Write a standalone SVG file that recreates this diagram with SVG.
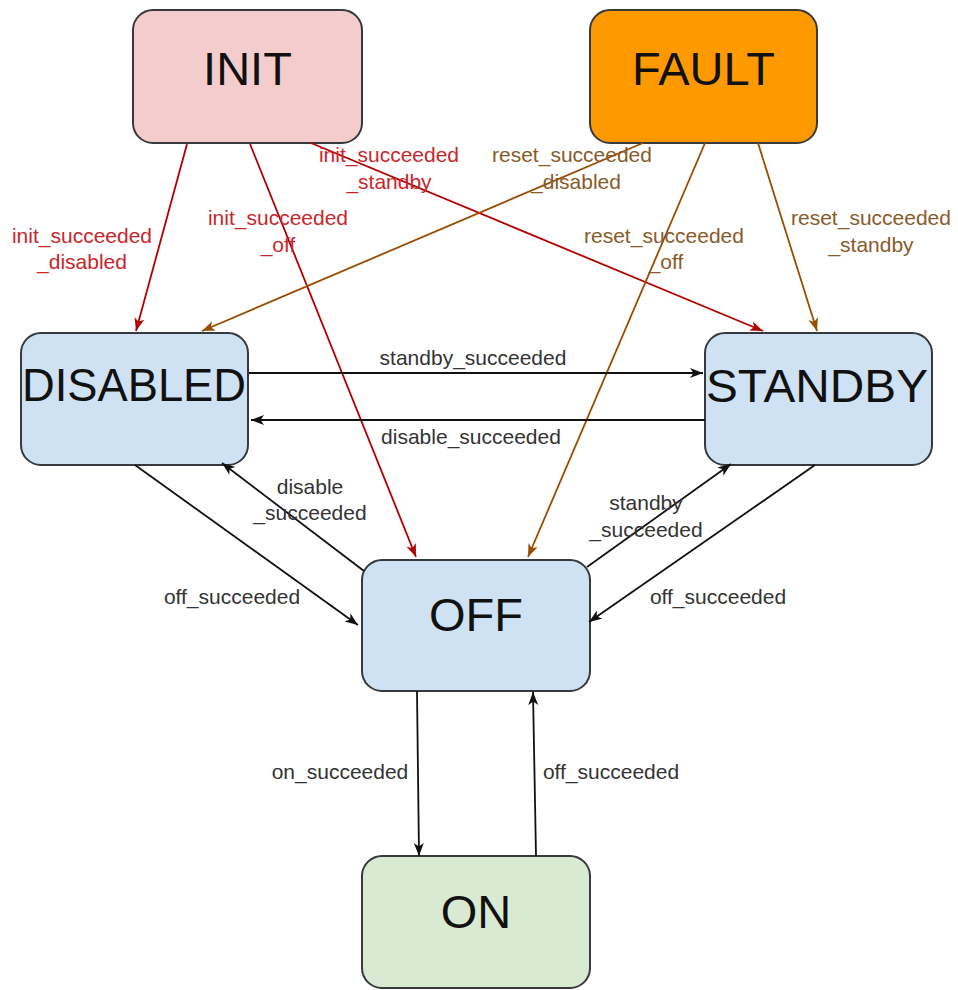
<svg xmlns="http://www.w3.org/2000/svg" width="958" height="990" viewBox="0 0 958 990">
<defs>
<style>
.node rect{stroke:#36393d;stroke-width:2}
.node text{font-family:"Liberation Sans",Arial,sans-serif;font-size:47px;fill:#111;text-anchor:middle}
.lbl{font-family:"Liberation Sans",Arial,sans-serif;font-size:21px;text-anchor:middle}
.blk{fill:#333}
.red{fill:#c8262c}
.brn{fill:#8a5a2a}
.e{fill:none;stroke-width:1.8}
.eb{stroke:#111;marker-end:url(#ab)}
.er{stroke:#b20000;marker-end:url(#ar)}
.en{stroke:#994c00;marker-end:url(#an)}
</style>
<marker id="ab" markerUnits="userSpaceOnUse" markerWidth="14" markerHeight="11" refX="13" refY="5.5" orient="auto"><path d="M0,0.5 L13,5.5 L0,10.5 L3.5,5.5 z" fill="#111"/></marker>
<marker id="ar" markerUnits="userSpaceOnUse" markerWidth="14" markerHeight="11" refX="13" refY="5.5" orient="auto"><path d="M0,0.5 L13,5.5 L0,10.5 L3.5,5.5 z" fill="#b20000"/></marker>
<marker id="an" markerUnits="userSpaceOnUse" markerWidth="14" markerHeight="11" refX="13" refY="5.5" orient="auto"><path d="M0,0.5 L13,5.5 L0,10.5 L3.5,5.5 z" fill="#994c00"/></marker>
</defs>
<rect width="958" height="990" fill="#fff"/>
<g id="nodes">
<g id="INIT" class="node"><rect x="133" y="10" width="229" height="133" rx="20" fill="#f4cccc"/><text x="247.5" y="85">INIT</text></g>
<g id="FAULT" class="node"><rect x="590" y="10" width="227" height="133" rx="20" fill="#ff9900"/><text x="703.5" y="85">FAULT</text></g>
<g id="DISABLED" class="node"><rect x="21" y="333" width="227" height="132" rx="20" fill="#cfe2f3"/><text x="134" y="401" textLength="224" lengthAdjust="spacingAndGlyphs">DISABLED</text></g>
<g id="STANDBY" class="node"><rect x="705" y="333" width="227" height="132" rx="20" fill="#cfe2f3"/><text x="817" y="402" textLength="222" lengthAdjust="spacingAndGlyphs">STANDBY</text></g>
<g id="OFF" class="node"><rect x="362" y="560" width="228" height="131" rx="20" fill="#cfe2f3"/><text x="476" y="631">OFF</text></g>
<g id="ON" class="node"><rect x="362" y="856" width="228" height="132" rx="20" fill="#d9ead3"/><text x="476" y="928">ON</text></g>
</g>
<g id="connectors">
<line class="e er" x1="187" y1="144" x2="136" y2="331"/>
<line class="e er" x1="250" y1="144" x2="416" y2="557"/>
<line class="e er" x1="311" y1="143" x2="763" y2="331"/>
<line class="e en" x1="643" y1="143" x2="202" y2="331"/>
<line class="e en" x1="705" y1="143" x2="528" y2="557"/>
<line class="e en" x1="758" y1="143" x2="817" y2="331"/>
<line class="e eb" x1="249" y1="373" x2="703" y2="373"/>
<line class="e eb" x1="705" y1="420" x2="251" y2="420"/>
<line class="e eb" x1="135" y1="465" x2="358" y2="625"/>
<line class="e eb" x1="364" y1="571" x2="222" y2="463"/>
<line class="e eb" x1="587" y1="567" x2="731" y2="464"/>
<line class="e eb" x1="815" y1="465" x2="589" y2="622"/>
<line class="e eb" x1="417" y1="691" x2="419" y2="856"/>
<line class="e eb" x1="536" y1="856" x2="533" y2="692"/>
</g>
<g id="labels">
<text class="lbl red" x="82" y="243">init_succeeded</text>
<text class="lbl red" x="82" y="269">_disabled</text>
<text class="lbl red" x="278" y="225">init_succeeded</text>
<text class="lbl red" x="278" y="252">_off</text>
<text class="lbl red" x="389" y="162">init_succeeded</text>
<text class="lbl red" x="389" y="189">_standby</text>
<text class="lbl brn" x="572" y="162">reset_succeeded</text>
<text class="lbl brn" x="576" y="189">_disabled</text>
<text class="lbl brn" x="664" y="243">reset_succeeded</text>
<text class="lbl brn" x="666" y="269">_off</text>
<text class="lbl brn" x="871" y="225">reset_succeeded</text>
<text class="lbl brn" x="871" y="252">_standby</text>
<text class="lbl blk" x="473" y="365">standby_succeeded</text>
<text class="lbl blk" x="471" y="444">disable_succeeded</text>
<text class="lbl blk" x="232" y="604">off_succeeded</text>
<text class="lbl blk" x="310" y="494">disable</text>
<text class="lbl blk" x="310" y="520">_succeeded</text>
<text class="lbl blk" x="646" y="510">standby</text>
<text class="lbl blk" x="646" y="537">_succeeded</text>
<text class="lbl blk" x="718" y="604">off_succeeded</text>
<text class="lbl blk" x="340" y="779">on_succeeded</text>
<text class="lbl blk" x="611" y="779">off_succeeded</text>
</g>
</svg>
